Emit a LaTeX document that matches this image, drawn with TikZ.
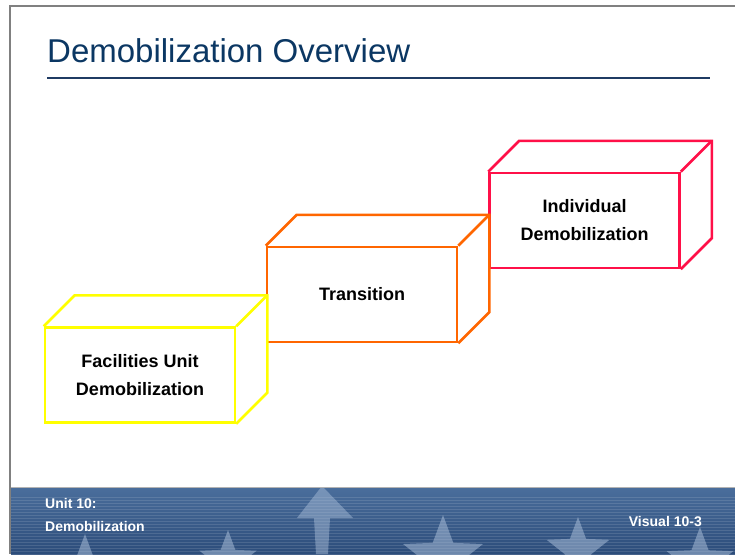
\documentclass[tikz,border=0pt]{standalone}
\usepackage{fontspec}
\setmainfont{Liberation Sans}
\usetikzlibrary{shapes.geometric}
\definecolor{demoblue}{HTML}{0B3763}
\definecolor{demorule}{HTML}{1F3B63}
\definecolor{demogray}{HTML}{808080}
\definecolor{facyellow}{HTML}{FFFF00}
\definecolor{transorange}{HTML}{FF6600}
\definecolor{indivred}{HTML}{FF1048}
\definecolor{bartop}{HTML}{4A6E9C}
\definecolor{barbottom}{HTML}{2C4C7A}
\definecolor{starblue}{HTML}{AFC3DD}

\tikzset{
  boxfront/.style={draw, line width=2.5pt, minimum width=190pt, minimum height=95pt,
    align=center, inner sep=0pt, font=\fontsize{18}{28}\selectfont\bfseries},
  boxedge/.style={line width=2.5pt, line join=miter},
  foot/.style={text=white, font=\fontsize{14}{16}\selectfont\bfseries, inner sep=0pt},
  starmark/.style={star, star points=5, star point ratio=2.4, fill=starblue,
    fill opacity=0.5, draw=none, inner sep=0pt},
}

\begin{document}
\begin{tikzpicture}[x=1pt, y=-1pt]
\useasboundingbox (0,0) rectangle (735,554);

% slide frame
\draw[demogray, line width=2pt] (735,6) -- (10,6) -- (10,554);

% title and rule
\node[anchor=base west, inner sep=0pt, text=demoblue, font=\fontsize{33}{36}\selectfont]
  (title) at (47,62) {Demobilization Overview};
\draw[demorule, line width=2pt] (47,78) -- (710,78);

% footer banner
\begin{scope}
  \clip (11,487) rectangle (735,554);
  \shade[top color=bartop, bottom color=barbottom] (11,487) rectangle (735,554);
  \foreach \y in {497,500,...,554}
    \draw[white, opacity=0.12, line width=1pt] (11,\y) -- (735,\y);
  \fill[starblue, opacity=0.45] (322,486) -- (353,518) -- (330,518) -- (328,554)
    -- (316,554) -- (314,518) -- (297,518) -- cycle;
  \node[starmark, minimum size=64pt] (star1) at (85,566) {};
  \node[starmark, minimum size=60pt] (star2) at (228,560) {};
  \node[starmark, minimum size=84pt] (star3) at (443,557) {};
  \node[starmark, minimum size=66pt] (star4) at (578,550) {};
  \node[starmark, minimum size=70pt] (star5) at (700,562) {};
\end{scope}
\draw[demogray!60, line width=1pt] (11,487) -- (735,487);

\node[foot, anchor=base west] (unit) at (45,508) {Unit 10:};
\node[foot, anchor=base west] (unitname) at (45,531) {Demobilization};
\node[foot, anchor=base east] (visual) at (702,526) {Visual 10-3};

% the three boxes
\node[boxfront, draw=facyellow] (fac) at (140,375) {Facilities Unit\\Demobilization};
\node[boxfront, draw=transorange] (trans) at (362,294.5) {Transition};
\node[boxfront, draw=indivred] (indiv) at (584.5,220.5) {Individual\\Demobilization};

\foreach \nm/\col in {fac/facyellow, trans/transorange, indiv/indivred} {
  \draw[boxedge, \col] (\nm.north west) -- ([shift={(31,-31)}]\nm.north west)
    -- ([shift={(31,-31)}]\nm.north east) -- ([shift={(31,-31)}]\nm.south east)
    -- (\nm.south east);
  \draw[boxedge, \col] ([shift={(31,-31)}]\nm.north east) -- (\nm.north east);
}
\end{tikzpicture}
\end{document}
